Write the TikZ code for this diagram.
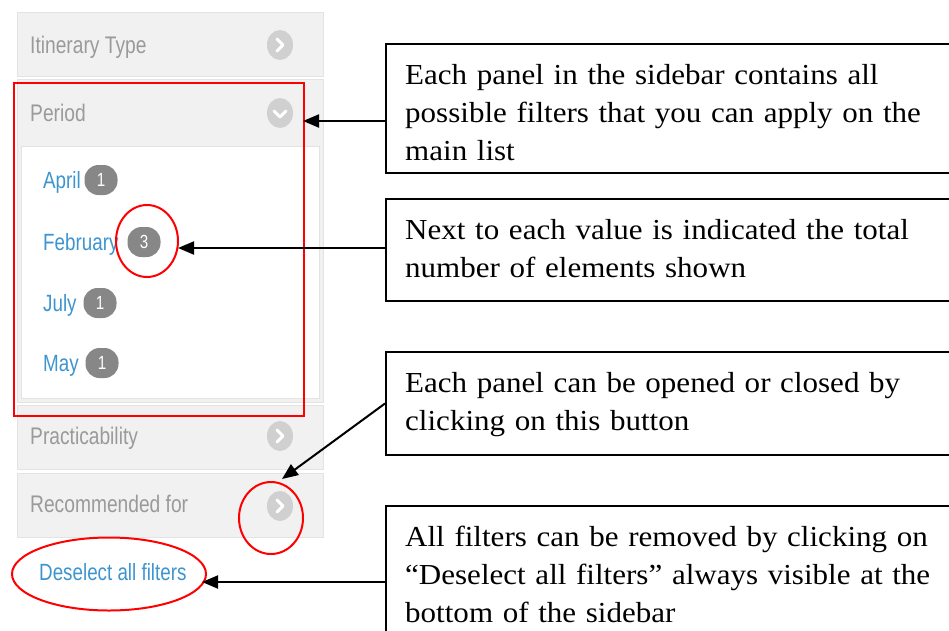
\documentclass[tikz,border=0pt]{standalone}
\usepackage{fontspec}
\setmainfont{Liberation Serif}
\newfontfamily\notefont[FakeStretch=1.07]{Liberation Serif}
\newfontfamily\uifont[FakeStretch=0.8]{Liberation Sans}
\usetikzlibrary{shapes.geometric,arrows.meta}

\definecolor{panelfill}{HTML}{F1F1F1}
\definecolor{panelline}{HTML}{E3E3E3}
\definecolor{headtext}{HTML}{9A9A9A}
\definecolor{linkblue}{HTML}{3D95CF}
\definecolor{badgegray}{HTML}{878787}
\definecolor{chevgray}{HTML}{D0D0D0}

\tikzset{
  panel/.style={fill=panelfill, draw=panelline, line width=1pt},
  headlabel/.style={anchor=base west, inner sep=0pt, text=headtext,
    font=\uifont\fontsize{24}{28}\selectfont},
  itemlabel/.style={anchor=base west, inner sep=0pt, text=linkblue,
    font=\uifont\fontsize{23.5}{28}\selectfont},
  badge/.style={rectangle, rounded corners=14pt, fill=badgegray, text=white,
    minimum width=33pt, minimum height=30pt, inner sep=0pt,
    font=\uifont\fontsize{19}{20}\selectfont},
  chevron/.style={ellipse, fill=chevgray, minimum width=26pt, minimum height=30pt, inner sep=0pt},
  chevline/.style={draw=white, line width=3pt, line cap=round, line join=round},
  redmark/.style={draw=red, line width=2pt},
  redell/.style={ellipse, draw=red, line width=2pt, inner sep=0pt},
  callout/.style={rectangle, draw=black, line width=2pt, anchor=north west,
    minimum width=600pt, inner sep=0pt},
  callouttext/.style={anchor=base west, inner sep=0pt, text width=570pt, align=left,
    font=\notefont\fontsize{29}{38.2}\selectfont},
  arr/.style={draw=black, line width=2pt, -{Triangle[length=16pt, width=13pt]}}
}

\begin{document}
\begin{tikzpicture}[x=1pt, y=-1pt]
\useasboundingbox (0,0) rectangle (949,630);

% sidebar panels
\draw[panel] (17,12) rectangle (323,76);
\draw[panel] (17,79) rectangle (323,402);
\draw[fill=white, draw=panelline, line width=1pt] (21,146) rectangle (319,398);
\draw[panel] (17,405) rectangle (323,469);
\draw[panel] (17,473) rectangle (323,537);

% panel headers
\node[headlabel] (h1) at (30,53) {Itinerary Type};
\node[headlabel] (h2) at (30,121) {Period};
\node[headlabel] (h3) at (30,444) {Practicability};
\node[headlabel] (h4) at (30,512) {Recommended for};

% toggle buttons
\node[chevron] (c1) at (280,45) {};
\draw[chevline] ([shift={(-3,-6)}]c1.center) -- ([shift={(3,0)}]c1.center) -- ([shift={(-3,6)}]c1.center);
\node[chevron] (c2) at (280,113) {};
\draw[chevline] ([shift={(-6,-2)}]c2.center) -- ([shift={(0,4)}]c2.center) -- ([shift={(6,-2)}]c2.center);
\node[chevron] (c3) at (280,436) {};
\draw[chevline] ([shift={(-3,-6)}]c3.center) -- ([shift={(3,0)}]c3.center) -- ([shift={(-3,6)}]c3.center);
\node[chevron] (c4) at (280,506) {};
\draw[chevline] ([shift={(-3,-6)}]c4.center) -- ([shift={(3,0)}]c4.center) -- ([shift={(-3,6)}]c4.center);

% period values with counts
\node[itemlabel] (i1) at (43,188) {April};
\node[badge] (n1) at (101,180) {1};
\node[itemlabel] (i2) at (43,250) {February};
\node[badge] (n2) at (144,242) {3};
\node[itemlabel] (i3) at (43,311) {July};
\node[badge] (n3) at (100,303) {1};
\node[itemlabel] (i4) at (43,371) {May};
\node[badge] (n4) at (102,363) {1};

\node[itemlabel] (desel) at (39,580) {Deselect all filters};

% red highlights
\draw[redmark] (14,83) rectangle (304,416);
\node[redell, minimum width=62pt, minimum height=72pt] (e3) at (147,241) {};
\node[redell, minimum width=64pt, minimum height=72pt] (eR) at (271,518) {};
\node[redell, minimum width=194pt, minimum height=73pt] (eD) at (109,574) {};

% callout boxes
\node[callout, minimum height=129pt] (b1) at (385,43) {};
\node[callouttext] (t1) at (405,84) {Each panel in the sidebar contains all\\possible filters that you can apply on the\\main list};
\node[callout, minimum height=102pt] (b2) at (385,198) {};
\node[callouttext] (t2) at (405,239) {Next to each value is indicated the total\\number of elements shown};
\node[callout, minimum height=103pt] (b3) at (385,351) {};
\node[callouttext] (t3) at (405,392) {Each panel can be opened or closed by\\clicking on this button};
\node[callout, minimum height=154pt] (b4) at (385,505) {};
\node[callouttext] (t4) at (405,546) {All filters can be removed by clicking on\\“Deselect all filters” always visible at the\\bottom of the sidebar};

% arrow targets
\coordinate (p1) at (303,121);
\coordinate (p2) at (178,248);
\coordinate (p3) at (282,479);
\coordinate (p4) at (202,582);

\draw[arr] (b1.west |- p1) -- (p1);
\draw[arr] (b2.west |- p2) -- (p2);
\draw[arr] (b3.west) -- (p3);
\draw[arr] (b4.west |- p4) -- (p4);
\end{tikzpicture}
\end{document}
